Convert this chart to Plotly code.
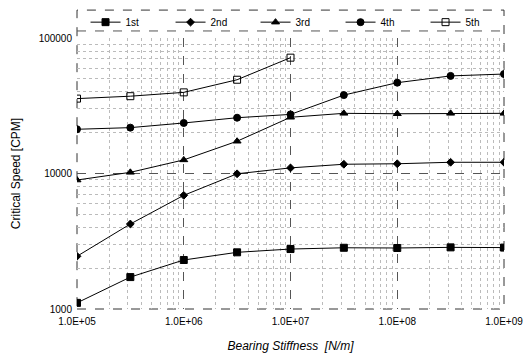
import plotly.graph_objects as go

stiffness = [1e5, 3.16e5, 1e6, 3.16e6, 1e7, 3.16e7, 1e8, 3.16e8, 1e9]
mode1 = [1110, 1720, 2300, 2620, 2770, 2830, 2820, 2850, 2840]
mode2 = [2450, 4240, 6900, 9950, 11000, 11700, 11800, 12100, 12100]
mode3 = [8950, 10200, 12600, 17300, 26000, 27800, 27600, 27800, 27800]
mode4 = [21200, 21800, 23600, 25800, 27300, 37900, 46800, 52500, 54200]
mode5 = [35700, 37200, 39700, 49200, 71600]

names = ["1st", "2nd", "3rd", "4th", "5th"]
xtick_vals = [1e5, 1e6, 1e7, 1e8, 1e9]
xtick_text = ["1.0E+05", "1.0E+06", "1.0E+07", "1.0E+08", "1.0E+09"]
ytick_vals = [1000, 10000, 100000]
ytick_text = ["1000", "10000", "100000"]

x_minor = [m * 10 ** e for e in range(5, 9) for m in range(2, 10)]
y_minor = [m * 10 ** e for e in range(3, 5) for m in range(2, 10)]

series = [
    (mode1, "square", 7),
    (mode2, "diamond", 6),
    (mode3, "triangle-up", 7),
    (mode4, "circle", 7),
    (mode5, "square-open", 7),
]

fig = go.Figure()
for (vals, sym, sz), nm in zip(series, names):
    fig.add_trace(go.Scatter(
        x=stiffness[:len(vals)], y=vals, name=nm, mode="lines+markers",
        line=dict(color="black", width=1),
        marker=dict(symbol=sym, size=sz, color="black",
                    line=dict(color="black", width=1)),
    ))

fig.update_layout(
    width=532, height=354,
    margin=dict(l=77, r=28, t=38, b=45, autoexpand=False),
    paper_bgcolor="white", plot_bgcolor="white",
    font=dict(family="Liberation Sans, Arial, sans-serif", size=10, color="black"),
    showlegend=True,
    legend=dict(orientation="h", x=0.02, y=1.005, xanchor="left", yanchor="bottom",
                entrywidth=40, entrywidthmode="pixels", bgcolor="rgba(0,0,0,0)",
                font=dict(size=10), itemwidth=30, tracegroupgap=0),
    xaxis=dict(type="log", range=[5, 9], tickvals=xtick_vals, ticktext=xtick_text,
               showline=False, zeroline=False, ticks="", ticklabelstandoff=5,
               automargin=False,
               showgrid=True, gridcolor="#555", griddash="dash", gridwidth=1,
               minor=dict(tickvals=x_minor, showgrid=True, gridcolor="#bbb",
                          griddash="dot", gridwidth=1),
               title=dict(text="<i>Bearing Stiffness  [N/m]</i>", font=dict(size=12)),
               tickfont=dict(size=10)),
    yaxis=dict(type="log", range=[3, 5], tickvals=ytick_vals, ticktext=ytick_text,
               showline=False, zeroline=False, ticks="", ticklabelstandoff=4,
               automargin=False,
               showgrid=True, gridcolor="#555", griddash="dash", gridwidth=1,
               minor=dict(tickvals=y_minor, showgrid=True, gridcolor="#bbb",
                          griddash="dot", gridwidth=1),
               title=dict(text="Critical Speed [CPM]", font=dict(size=12)),
               tickfont=dict(size=10)),
)

# dashed frame around plot and legend strip
fig.add_shape(type="rect", xref="paper", yref="paper", x0=0, x1=1, y0=0, y1=1.103,
              line=dict(color="#333", width=1, dash="dash"), layer="below")
fig.add_shape(type="line", xref="paper", yref="paper", x0=0, x1=1, y0=1.026, y1=1.026,
              line=dict(color="#555", width=1, dash="dash"), layer="below")

fig.write_html("out.html")
